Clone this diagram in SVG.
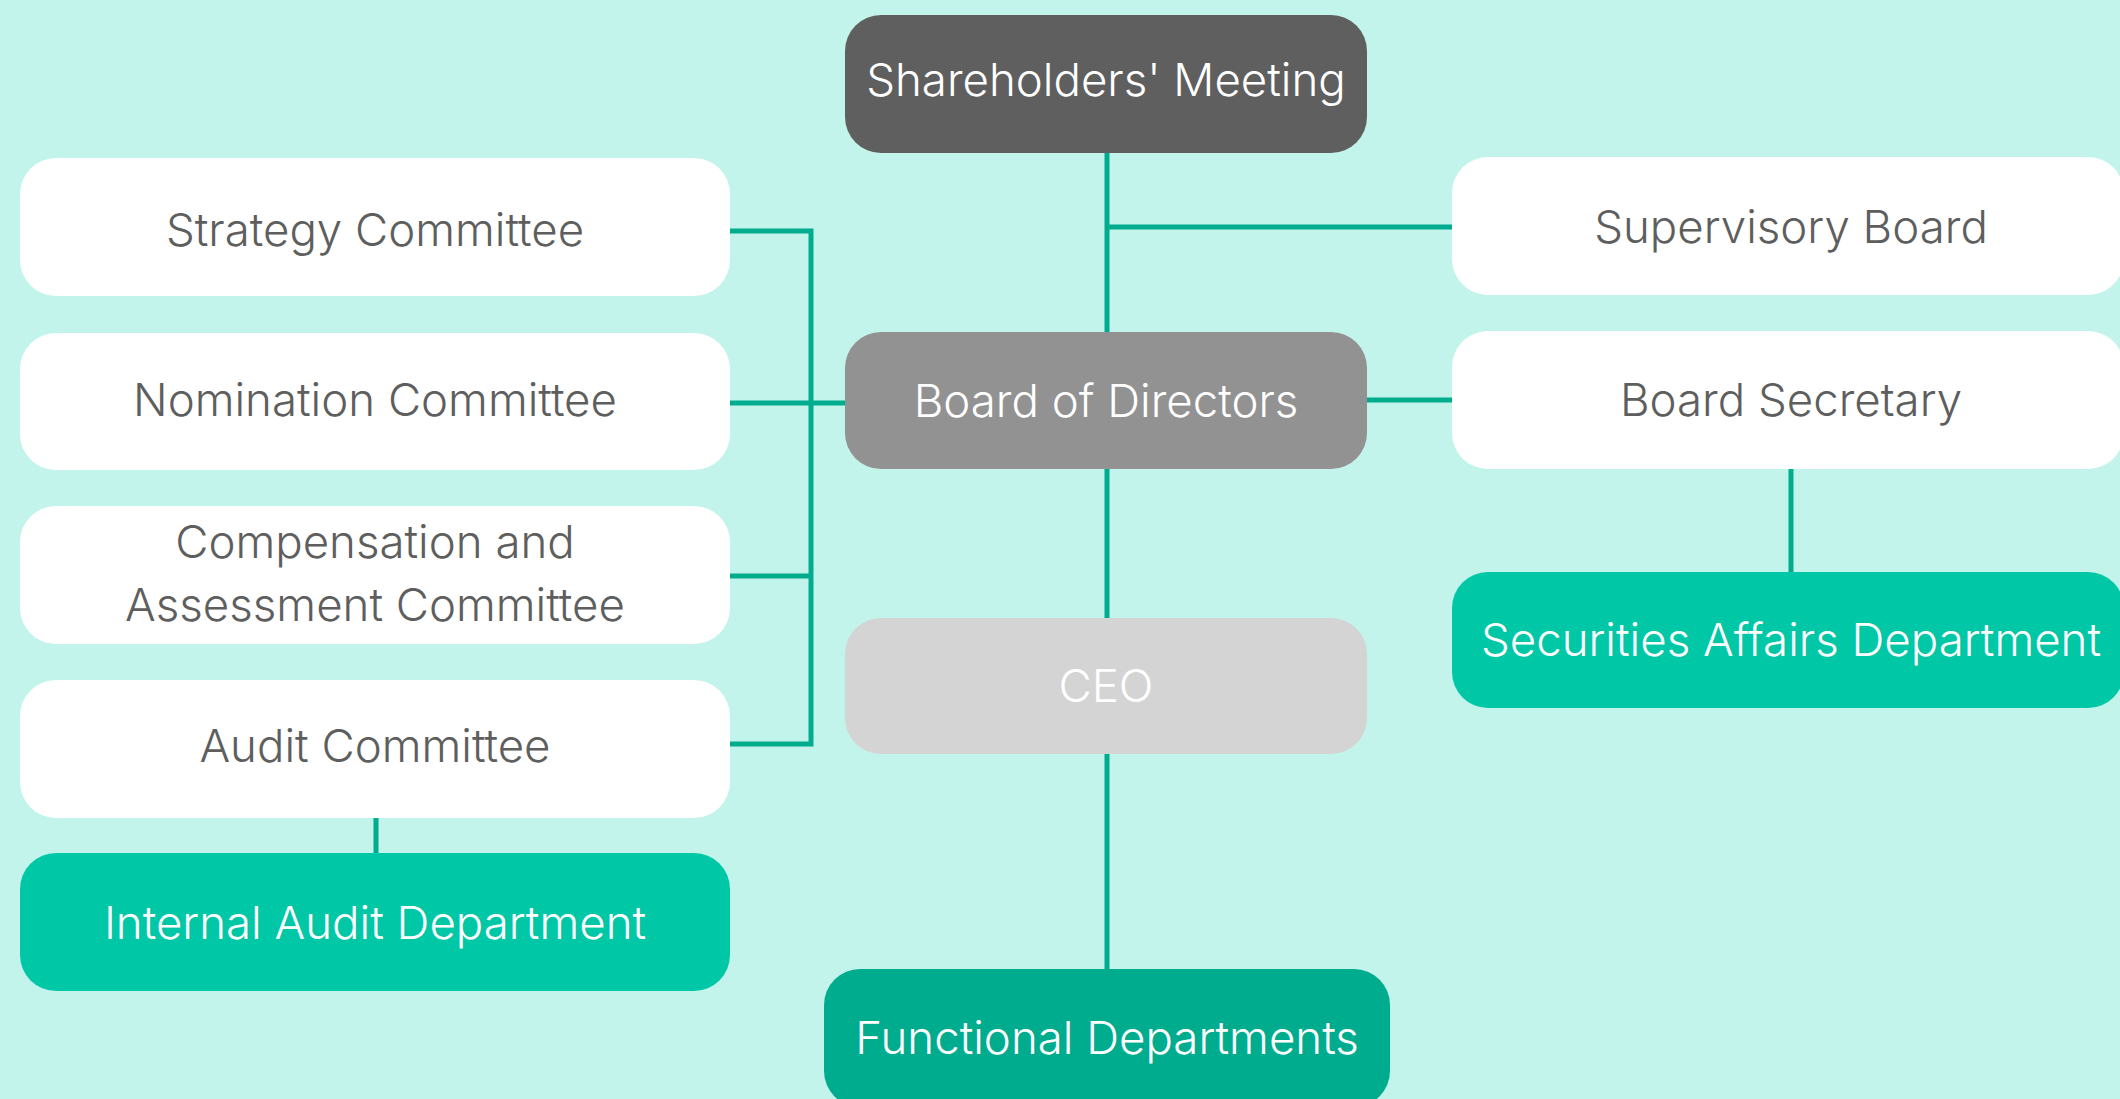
<svg xmlns="http://www.w3.org/2000/svg" width="2120" height="1099" viewBox="0 0 2120 1099">
<style>
.t{font-family:Inter,"Noto Sans","Liberation Sans",sans-serif;font-size:45.6px;font-weight:300;text-anchor:middle}
.g{fill:#5E5E5E}
.w{fill:#FFFFFF}
.ln{fill:none;stroke:#00AB8E;stroke-width:5;stroke-linecap:butt;stroke-linejoin:miter}
</style>
<rect x="0" y="0" width="2120" height="1099" fill="#C3F4EC"/>
<g id="connectors">
<path class="ln" d="M1107,153 V332"/>
<path class="ln" d="M1107,227 H1452"/>
<path class="ln" d="M1107,469 V618"/>
<path class="ln" d="M1107,754 V969"/>
<path class="ln" d="M1367,400 H1452"/>
<path class="ln" d="M1791,469 V572"/>
<path class="ln" d="M730,231 H811 V744 H730"/>
<path class="ln" d="M730,576 H811"/>
<path class="ln" d="M730,403 H845"/>
<path class="ln" d="M376,818 V853"/>
</g>
<g id="shareholders">
<rect x="845" y="15" width="522" height="138" rx="36" fill="#5F5F5F"/>
<text class="t w" x="1106" y="96">Shareholders' Meeting</text>
</g>
<g id="board">
<rect x="845" y="332" width="522" height="137" rx="36" fill="#929292"/>
<text class="t w" x="1106" y="417">Board of Directors</text>
</g>
<g id="ceo">
<rect x="845" y="618" width="522" height="136" rx="36" fill="#D4D4D4"/>
<text class="t w" x="1106" y="702">CEO</text>
</g>
<g id="functional">
<rect x="824" y="969" width="566" height="138" rx="36" fill="#00AC8E"/>
<text class="t w" x="1107" y="1054">Functional Departments</text>
</g>
<g id="strategy">
<rect x="20" y="158" width="710" height="138" rx="36" fill="#FFFFFF"/>
<text class="t g" x="375" y="246">Strategy Committee</text>
</g>
<g id="nomination">
<rect x="20" y="333" width="710" height="137" rx="36" fill="#FFFFFF"/>
<text class="t g" x="375" y="416">Nomination Committee</text>
</g>
<g id="compensation">
<rect x="20" y="506" width="710" height="138" rx="36" fill="#FFFFFF"/>
<text class="t g" x="375" y="558">Compensation and</text>
<text class="t g" x="375" y="621">Assessment Committee</text>
</g>
<g id="audit">
<rect x="20" y="680" width="710" height="138" rx="36" fill="#FFFFFF"/>
<text class="t g" x="375" y="762">Audit Committee</text>
</g>
<g id="internal-audit">
<rect x="20" y="853" width="710" height="138" rx="36" fill="#00C7A5"/>
<text class="t w" x="375" y="939">Internal Audit Department</text>
</g>
<g id="supervisory">
<rect x="1452" y="157" width="672" height="138" rx="36" fill="#FFFFFF"/>
<text class="t g" x="1791" y="243">Supervisory Board</text>
</g>
<g id="secretary">
<rect x="1452" y="331" width="672" height="138" rx="36" fill="#FFFFFF"/>
<text class="t g" x="1791" y="416">Board Secretary</text>
</g>
<g id="securities">
<rect x="1452" y="572" width="672" height="136" rx="36" fill="#00C7A5"/>
<text class="t w" x="1791" y="656">Securities Affairs Department</text>
</g>
</svg>
